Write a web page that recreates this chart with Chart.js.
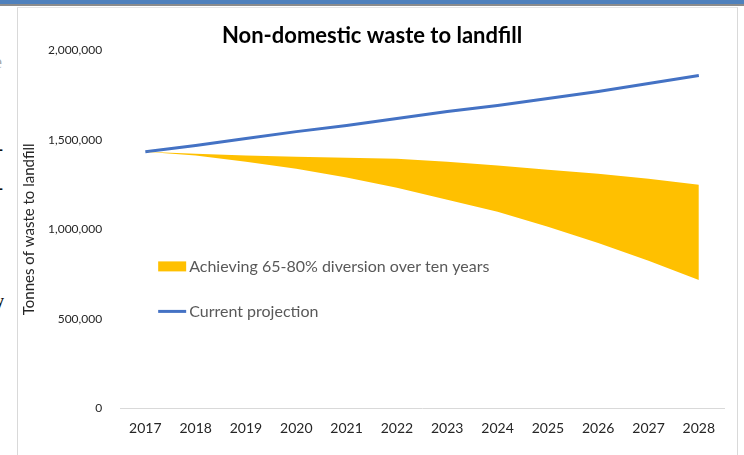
<!DOCTYPE html>
<html>
<head>
<meta charset="utf-8">
<script src="https://cdn.jsdelivr.net/npm/chart.js@4.4.1/dist/chart.umd.min.js"></script>
<style>
  html, body { margin: 0; padding: 0; background: #fff; }
  body { width: 744px; height: 455px; position: relative; overflow: hidden; font-family: Lato, "Open Sans", sans-serif; }
  .topbar { position: absolute; left: 0; top: 0; width: 744px; height: 4px; background: #4f81bd; }
  .topline { position: absolute; left: 0; top: 4px; width: 744px; height: 2px; background: #8c8c8c; }
  .frame { position: absolute; left: 17px; top: 7px; width: 719px; height: 460px; border-left: 1px solid #d9d9d9; border-right: 1px solid #d9d9d9; border-top: 1px solid #e6e6e6; }
  .doc { position: absolute; left: 0; top: 0; width: 8px; height: 455px; overflow: hidden; }
  .doc span { position: absolute; font: bold 18px "Liberation Serif", serif; color: #111; line-height: 1; }
  #wrap { position: absolute; left: 18px; top: 8px; width: 718px; height: 447px; }
</style>
</head>
<body>
<div class="topbar"></div>
<div class="topline"></div>
<div class="doc">
  <span style="left:-6px; top:53px; color:#aaa; font-weight:normal">e</span>
  <span style="left:-3px; top:140px">-</span>
  <span style="left:-3px; top:179px">-</span>
  <span style="left:-5px; top:292px">y</span>
</div>
<div class="frame"></div>
<div id="wrap"><canvas id="wasteChart"></canvas></div>
<script>
// Years on the category axis
const years = ['2017', '2018', '2019', '2020', '2021', '2022', '2023', '2024', '2025', '2026', '2027', '2028'];

// Tonnes to landfill under the current projection
const currentProjection = [1434000, 1468000, 1507000, 1546000, 1580000, 1619000, 1658000, 1692000, 1731000, 1770000, 1815000, 1860000];

// Range for 65-80% diversion: upper (65%) and lower (80%) bounds
const diversionUpper = [1434000, 1423000, 1413000, 1405000, 1400000, 1395000, 1378000, 1356000, 1333000, 1311000, 1283000, 1249000];
const diversionLower = [1434000, 1412000, 1378000, 1339000, 1289000, 1232000, 1165000, 1098000, 1014000, 924000, 824000, 717000];

const yTicks = [0, 500000, 1000000, 1500000, 2000000];

const BLUE = '#4472c4';
const GOLD = '#ffc000';
const FONT = 'Lato, "Open Sans", sans-serif';

// Legend sits inside the plot area, so draw it by hand
const innerLegend = {
  id: 'innerLegend',
  afterDatasetsDraw(chart) {
    const { ctx, chartArea } = chart;
    const x = chartArea.left + 38;
    ctx.save();
    ctx.font = '16px ' + FONT;
    ctx.textBaseline = 'middle';

    const y1 = chartArea.top + 216;
    ctx.fillStyle = GOLD;
    ctx.fillRect(x, y1 - 5, 28, 10);
    ctx.fillStyle = '#595959';
    ctx.fillText('Achieving 65-80% diversion over ten years', x + 31, y1);

    const y2 = chartArea.top + 261;
    ctx.strokeStyle = BLUE;
    ctx.lineWidth = 3;
    ctx.beginPath();
    ctx.moveTo(x, y2);
    ctx.lineTo(x + 28, y2);
    ctx.stroke();
    ctx.fillText('Current projection', x + 31, y2);
    ctx.restore();
  }
};

const config = {
  type: 'line',
  data: {
    labels: years,
    datasets: [
      {
        label: 'Achieving 65-80% diversion over ten years',
        data: diversionUpper,
        borderWidth: 0,
        pointRadius: 0,
        backgroundColor: GOLD,
        fill: '+1',
        tension: 0
      },
      {
        label: 'lower',
        data: diversionLower,
        borderWidth: 0,
        pointRadius: 0,
        fill: false,
        tension: 0
      },
      {
        label: 'Current projection',
        data: currentProjection,
        borderColor: BLUE,
        borderWidth: 3,
        pointRadius: 0,
        fill: false,
        tension: 0
      }
    ]
  },
  options: {
    responsive: true,
    maintainAspectRatio: false,
    animation: false,
    layout: { padding: { left: 2, right: 12, bottom: 14 } },
    plugins: {
      legend: { display: false },
      tooltip: { enabled: false },
      title: {
        display: true,
        text: 'Non-domestic waste to landfill',
        color: '#000',
        font: { family: FONT, size: 22, weight: 'bold', lineHeight: 1.2 },
        padding: { top: 15, bottom: 1 }
      }
    },
    scales: {
      x: {
        offset: true,
        grid: { display: false },
        border: { display: true, color: '#d9d9d9', width: 1 },
        ticks: { color: '#262626', font: { family: FONT, size: 14 }, padding: 4, maxRotation: 0 }
      },
      y: {
        min: 0,
        max: 2000000,
        afterBuildTicks(scale) {
          scale.ticks = yTicks.map(v => ({ value: v }));
        },
        grid: { display: false },
        border: { display: false },
        ticks: {
          color: '#262626',
          font: { family: FONT, size: 12 },
          padding: 10,
          callback: v => v.toLocaleString('en-US')
        },
        title: {
          display: true,
          text: 'Tonnes of waste to landfill',
          color: '#262626',
          font: { family: FONT, size: 15 },
          padding: { top: 0, bottom: 0 }
        }
      }
    }
  },
  plugins: [innerLegend]
};

new Chart(document.getElementById('wasteChart').getContext('2d'), config);
</script>
</body>
</html>
